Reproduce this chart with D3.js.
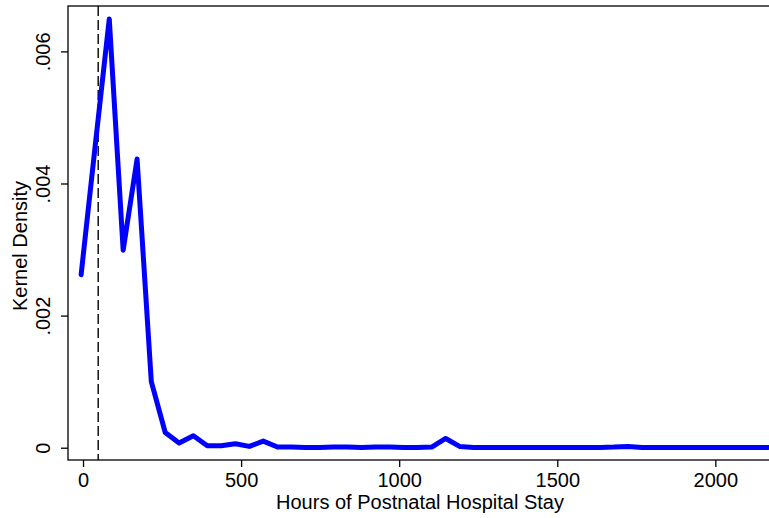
<!DOCTYPE html>
<html>
<head>
<meta charset="utf-8">
<script src="https://cdn.jsdelivr.net/npm/d3@7"></script>
<style>
  body { margin: 0; background: #fff; }
  text { font-family: Arial, "Liberation Sans", sans-serif; fill: #000; }
</style>
</head>
<body>
<div id="chart"></div>
<script>
// kernel density evaluated at 50 points (hours)
const hours = [-6, 38, 83, 127, 171, 216, 260, 304, 349, 393,
  437, 482, 526, 570, 615, 659, 703, 748, 792, 836,
  881, 925, 970, 1014, 1058, 1103, 1147, 1191, 1236, 1280,
  1324, 1369, 1413, 1457, 1502, 1546, 1591, 1635, 1679, 1724,
  1768, 1812, 1857, 1901, 1945, 1990, 2034, 2078, 2123, 2167];
const density = [0.00262, 0.00455, 0.00649, 0.00299, 0.00437, 0.00100, 0.00023, 0.00007, 0.00018, 0.00003,
  0.00003, 0.00006, 0.00002, 0.00010, 0.00001, 0.00001, 0.000005, 0.000005, 0.00001, 0.00001,
  0.000005, 0.00001, 0.00001, 0.000005, 0.000005, 0.00001, 0.00014, 0.00002, 0.000005, 0.000005,
  0.000005, 0.000005, 0.000005, 0.000005, 0.000005, 0.000005, 0.000005, 0.000005, 0.00001, 0.00002,
  0.000005, 0.000005, 0.000005, 0.000005, 0.000005, 0.000005, 0.000005, 0.000005, 0.000005, 0.000005];
const xTicks = [0, 500, 1000, 1500, 2000];
const yTicks = [0, 0.002, 0.004, 0.006];
const yTickLabels = ["0", ".002", ".004", ".006"];
const cutoff = 48; // reference line (hours)

const W = 769, H = 518;
const margin = { top: 6, right: -2, bottom: 58, left: 68 };
const width = W - margin.left - margin.right,
  height = H - margin.top - margin.bottom;
const fontSize = 20;

const svg = d3.select("#chart").append("svg")
  .attr("width", W).attr("height", H);

const g = svg.append("g")
  .attr("transform", "translate(" + margin.left + "," + margin.top + ")");

const x = d3.scaleLinear().domain([-47.5, 2176]).range([0, width]);
const y = d3.scaleLinear().domain([-0.000186, 0.006687]).range([height, 0]);

// plot region outline
g.append("rect")
  .attr("x", 0).attr("y", 0)
  .attr("width", width).attr("height", height)
  .attr("fill", "none").attr("stroke", "#000").attr("stroke-width", 1.3);

const xAxis = g.append("g")
  .attr("transform", "translate(0," + height + ")")
  .call(d3.axisBottom(x).tickValues(xTicks).tickSize(7).tickPadding(6).tickFormat(d3.format("d")));
xAxis.select(".domain").remove();
xAxis.selectAll("line").attr("stroke-width", 1.3);
xAxis.selectAll("text").attr("font-size", fontSize).attr("dy", "0.71em");

const yAxis = g.append("g")
  .call(d3.axisLeft(y).tickValues(yTicks).tickSize(7).tickFormat((d, i) => yTickLabels[i]));
yAxis.select(".domain").remove();
yAxis.selectAll("line").attr("stroke-width", 1.3);
yAxis.selectAll("text")
  .attr("font-size", fontSize)
  .attr("text-anchor", "middle")
  .attr("x", null).attr("dy", null)
  .attr("transform", "translate(-18,0) rotate(-90)");

// dashed reference line
g.append("line")
  .attr("x1", x(cutoff)).attr("x2", x(cutoff))
  .attr("y1", 0).attr("y2", height)
  .attr("stroke", "#000").attr("stroke-width", 1.4)
  .attr("stroke-dasharray", "10,4");

const line = d3.line()
  .x((d, i) => x(hours[i]))
  .y((d) => y(d));

g.append("path")
  .datum(density)
  .attr("fill", "none")
  .attr("stroke", "#0000ff")
  .attr("stroke-width", 5)
  .attr("stroke-linejoin", "round")
  .attr("stroke-linecap", "round")
  .attr("d", line);

// axis titles
svg.append("text")
  .attr("x", 420).attr("y", 509)
  .attr("text-anchor", "middle").attr("font-size", fontSize)
  .text("Hours of Postnatal Hospital Stay");

svg.append("text")
  .attr("transform", "translate(27,246) rotate(-90)")
  .attr("text-anchor", "middle").attr("font-size", fontSize)
  .text("Kernel Density");
</script>
</body>
</html>
